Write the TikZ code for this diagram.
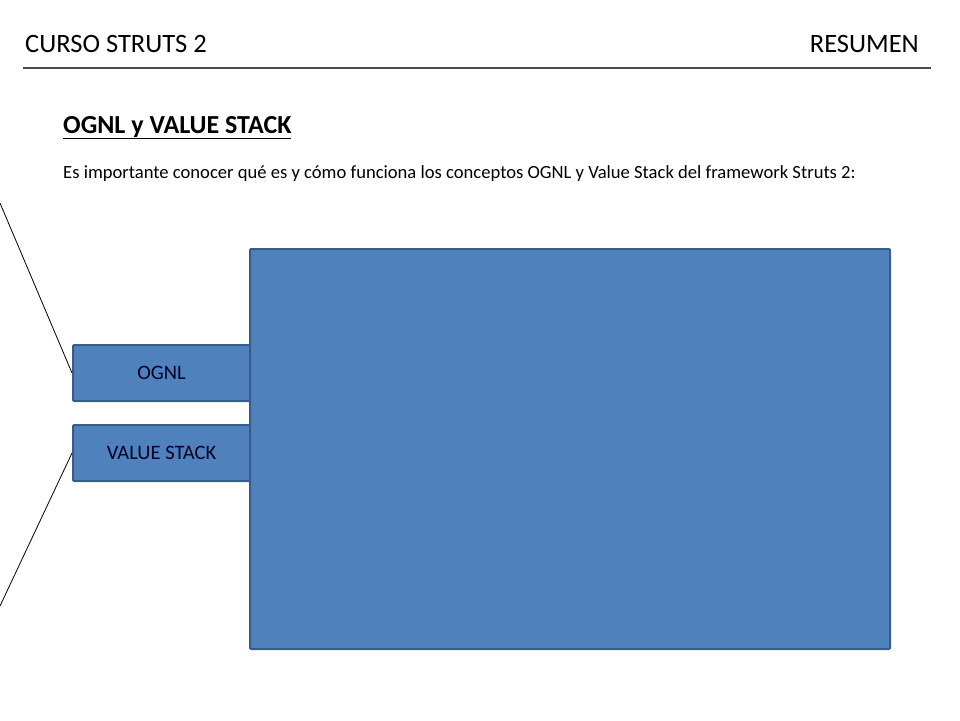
\documentclass[tikz,border=0pt]{standalone}
\usepackage{fontspec}
\setmainfont{Carlito}
\usetikzlibrary{positioning}

\definecolor{boxfill}{HTML}{4F81BD}
\definecolor{boxline}{HTML}{385D8A}
\definecolor{rulegray}{HTML}{4A4A4A}

\begin{document}
\begin{tikzpicture}[x=1pt, y=-1pt, node distance=22pt,
    box/.style={draw=boxline, line width=2pt, fill=boxfill, rounded corners=1pt},
    smallbox/.style={box, minimum width=177pt, minimum height=56pt, inner sep=0pt,
        font=\fontsize{20.5}{23}\selectfont, text=black!85!blue},
    header/.style={font=\fontsize{26.5}{30}\selectfont, inner sep=0pt}]
    \useasboundingbox (0,0) rectangle (960,720);

    \node[header, anchor=base west] (course) at (25,52) {CURSO STRUTS 2};
    \node[header, anchor=base east] (summary) at (919,52) {RESUMEN};
    \draw[rulegray, line width=1.3pt] (23,68) -- (931,68);

    \node[anchor=base west, inner sep=0pt, font=\fontsize{26}{30}\selectfont\bfseries] (title) at (63,133)
        {\underline{OGNL y VALUE STACK}};
    \node[anchor=base west, inner sep=0pt, font=\fontsize{18.6}{22}\selectfont] (intro) at (63,178)
        {Es importante conocer qué es y cómo funciona los conceptos OGNL y Value Stack del framework Struts 2:};

    \node[smallbox, anchor=north west] (ognl) at (72,344) {OGNL};
    \node[smallbox, below=of ognl] (stack) {VALUE STACK};
    \node[box, anchor=north west, minimum width=640pt, minimum height=400pt] (panel) at (249,248) {};

    \coordinate (top) at (0,203);
    \coordinate (bottom) at (0,606);
    \draw[line width=0.8pt] (top) -- (ognl.west);
    \draw[line width=0.8pt] (bottom) -- (stack.west);
\end{tikzpicture}
\end{document}
